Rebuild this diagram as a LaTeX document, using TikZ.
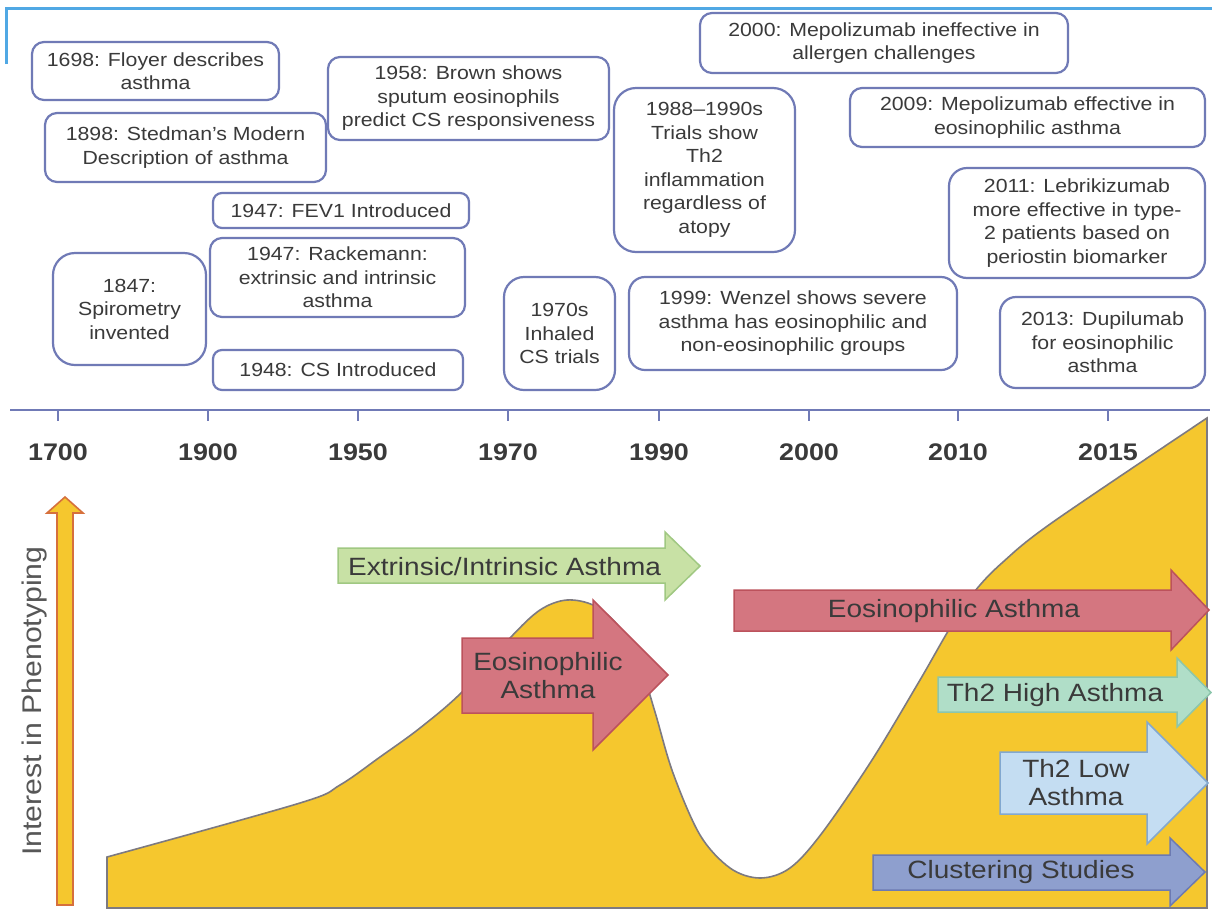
\documentclass[tikz,border=0pt]{standalone}
\usepackage{fontspec}
\setmainfont{Liberation Sans}[FakeStretch=1.12]
\definecolor{boxc}{RGB}{112,122,182}
\definecolor{txt}{RGB}{58,58,58}
\definecolor{topblue}{RGB}{80,168,228}
\definecolor{gold}{RGB}{245,199,46}
\definecolor{goldline}{RGB}{125,122,128}
\definecolor{orng}{RGB}{214,112,60}
\definecolor{grnf}{RGB}{200,225,165}
\definecolor{grnd}{RGB}{160,200,130}
\definecolor{redf}{RGB}{212,118,128}
\definecolor{redd}{RGB}{188,82,92}
\definecolor{tealf}{RGB}{176,222,200}
\definecolor{teald}{RGB}{140,198,172}
\definecolor{ltbf}{RGB}{196,221,242}
\definecolor{ltbd}{RGB}{130,168,208}
\definecolor{bluf}{RGB}{142,159,206}
\definecolor{blud}{RGB}{108,122,178}
\pgfdeclarelayer{bg}
\pgfsetlayers{bg,main}
\newcommand\evt[7][12pt]{%
  \node[evt, rounded corners=#1, minimum width={#5pt-#3pt}, minimum height={#6pt-#4pt}]
    (#2) at ({(#3+#5)/2},{(#4+#6)/2}) {#7};}
\newcommand\fatarr[8]{%
  \path[#1] (#2,#3) -- (#5,#3) -- (#5,#6) -- (#8,{(#6+#7)/2}) -- (#5,#7) -- (#5,#4) -- (#2,#4) -- cycle;}
\begin{document}
\begin{tikzpicture}[x=1pt,y=-1pt,
  evt/.style={draw=boxc, line width=2.2pt, fill=white, align=center, inner sep=0pt,
    text=txt, font=\fontsize{19}{23.5}\selectfont},
  conn/.style={draw=boxc, line width=2.2pt},
  year/.style={text=txt, font=\fontsize{24}{26}\selectfont\bfseries},
  arrtxt/.style={text=txt, align=center, inner sep=0pt, font=\fontsize{25}{28}\selectfont},
  fatgreen/.style={fill=grnf, draw=grnd, line width=1.5pt},
  fatred/.style={fill=redf, draw=redd, line width=1.5pt},
  fatteal/.style={fill=tealf, draw=teald, line width=1.5pt},
  fatltb/.style={fill=ltbf, draw=ltbd, line width=1.5pt},
  fatblue/.style={fill=bluf, draw=blud, line width=1.5pt}]
\useasboundingbox (0,0) rectangle (1212,911);
\fill[white] (0,0) rectangle (1212,911);
% screenshot frame
\draw[topblue, line width=3pt] (6,64) -- (6,8) -- (1212,8);

% event boxes
\evt{b1}{32}{42}{279}{100}{1698: Floyer describes\\asthma}
\evt{b2}{45}{113}{326}{182}{1898: Stedman's Modern\\Description of asthma}
\evt{b3}{328}{57}{609}{140}{1958: Brown shows\\sputum eosinophils\\predict CS responsiveness}
\evt{b4}{700}{13}{1068}{73}{2000: Mepolizumab ineffective in\\allergen challenges}
\evt[22pt]{b5}{614}{88}{795}{252}{1988–1990s\\Trials show\\Th2\\inflammation\\regardless of\\atopy}
\evt{b6}{850}{88}{1205}{147}{2009: Mepolizumab effective in\\eosinophilic asthma}
\evt[18pt]{b7}{949}{168}{1205}{278}{2011: Lebrikizumab\\more effective in type-\\2 patients based on\\periostin biomarker}
\evt[16pt]{b8}{1000}{297}{1205}{388}{2013: Dupilumab\\for eosinophilic\\asthma}
\evt[16pt]{b9}{629}{277}{957}{370}{1999: Wenzel shows severe\\asthma has eosinophilic and\\non-eosinophilic groups}
\evt[20pt]{b10}{504}{277}{615}{390}{1970s\\Inhaled\\CS trials}
\evt[22pt]{b11}{53}{253}{206}{365}{1847:\\Spirometry\\invented}
\evt[9pt]{b12}{213}{193}{469}{228}{1947: FEV1 Introduced}
\evt{b13}{210}{238}{465}{317}{1947: Rackemann:\\extrinsic and intrinsic\\asthma}
\evt[9pt]{b14}{213}{350}{463}{390}{1948: CS Introduced}

% axis
\coordinate (axL) at (10,410);
\coordinate (axR) at (1210,410);
\draw[conn, line width=2.6pt] (axL) -- (axR);
\foreach \n/\x in {a1/40,a2/129,a3/186,a4/340,a5/490,a6/794,a7/809,a8/943,a9/975,a10/1066}
  \coordinate (\n) at (\x,410);
\begin{pgfonlayer}{bg}
  \draw[conn] (b1.south -| a1) -- (a1);
  \draw[conn] (b11.south -| a2) -- (a2);
  \draw[conn] (b2.south -| a3) -- (a3);
  \draw[conn] (b12.south -| a4) -- (a4);
  \draw[conn] (b3.south -| a5) -- (a5);
  \draw[conn] (b9.south -| a6) -- (a6);
  \draw[conn] (b4.south -| a7) -- (a7);
  \draw[conn] (b6.south -| a8) -- (a8);
  \draw[conn] (b7.south -| a9) -- (a9);
  \draw[conn] (b8.south -| a10) -- (a10);
\end{pgfonlayer}

% ticks and years
\foreach \x/\y [count=\i] in {58/1700,208/1900,358/1950,508/1970,659/1990,809/2000,958/2010,1108/2015}{
  \coordinate (tk\i) at (\x,410);
  \draw[conn, line width=1.8pt] (tk\i) -- ++(0,11);
  \node[year] (yr\i) at (\x,452) {\y};
}

% interest curve
\path[fill=gold, draw=goldline, line width=1.6pt]
  (107,908) -- (107,857) --
  plot[smooth, tension=0.55] coordinates {(107,857) (300,803) (340,785) (380,757) (420,728) (462,692)
     (510,638) (540,610) (567,600) (595,606) (620,628) (640,665) (655,712) (673,773)
     (700,835) (730,868) (760,878) (790,868) (822,833) (872,760) (920,680) (950,628)
     (975,591) (1003,562) (1053,522) (1207,418)}
  -- (1207,908) -- cycle;

% vertical interest arrow
\path[fill=gold, draw=orng, line width=1.6pt]
  (57,905) -- (57,513) -- (47,513) -- (65,497) -- (83,513) -- (73,513) -- (73,905) -- cycle;
\node[text=txt!85, rotate=90, inner sep=0pt, font=\fontsize{27}{30}\selectfont] (intl) at (35,701) {Interest in Phenotyping};

% phenotype arrows
\fatarr{fatgreen}{338}{548}{583}{665}{532}{600}{700}
\node[arrtxt, anchor=west] (tx1) at (348,567) {Extrinsic/Intrinsic Asthma};
\fatarr{fatred}{462}{638}{713}{593}{600}{750}{668}
\node[arrtxt] (tx2) at (548,676) {Eosinophilic\\Asthma};
\fatarr{fatred}{734}{590}{631}{1171}{570}{650}{1209}
\node[arrtxt] (tx3) at (954,611) {Eosinophilic Asthma};
\fatarr{fatteal}{938}{677}{712}{1177}{658}{727}{1211}
\node[arrtxt] (tx4) at (1055,695) {Th2 High Asthma};
\fatarr{fatltb}{1000}{752}{814}{1147}{722}{844}{1208}
\node[arrtxt] (tx5) at (1076,783) {Th2 Low\\Asthma};
\fatarr{fatblue}{873}{855}{890}{1170}{838}{906}{1205}
\node[arrtxt] (tx6) at (1021,872) {Clustering Studies};
\end{tikzpicture}
\end{document}
